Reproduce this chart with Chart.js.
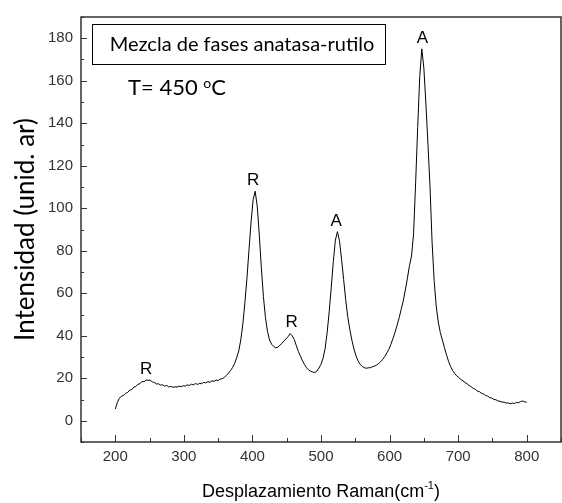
<!DOCTYPE html>
<html>
<head>
<meta charset="utf-8">
<title>Espectro Raman</title>
<script src="https://cdn.jsdelivr.net/npm/chart.js@4.4.1/dist/chart.umd.min.js"></script>
<style>
    html, body { margin: 0; padding: 0; background: #fff; overflow: hidden; }
    #wrap { width: 562px; height: 503px; }
</style>
</head>
<body>
<div id="wrap"><canvas id="ramanChart"></canvas></div>
<script>
// Raman shift (cm-1)
const ramanShift = [
    200, 203, 206, 209, 212, 215, 218, 221, 224, 227,
    230, 233, 236, 239, 242, 245, 248, 251, 254, 257,
    260, 263, 266, 269, 272, 275, 278, 281, 284, 287,
    290, 293, 296, 299, 302, 305, 308, 311, 314, 317,
    320, 323, 326, 329, 332, 335, 338, 341, 344, 347,
    350, 353, 356, 359, 362, 365, 368, 371, 374, 377,
    380, 383, 386, 389, 392, 395, 398, 401, 404, 407,
    410, 413, 416, 419, 422, 425, 428, 431, 434, 437,
    440, 443, 446, 449, 452, 455, 458, 461, 464, 467,
    470, 473, 476, 479, 482, 485, 488, 491, 494, 497,
    500, 503, 506, 509, 512, 515, 518, 521, 524, 527,
    530, 533, 536, 539, 542, 545, 548, 551, 554, 557,
    560, 563, 566, 569, 572, 575, 578, 581, 584, 587,
    590, 593, 596, 599, 602, 605, 608, 611, 614, 617,
    620, 623, 626, 629, 632, 635, 638, 641, 644, 647,
    650, 653, 656, 659, 662, 665, 668, 671, 674, 677,
    680, 683, 686, 689, 692, 695, 698, 701, 704, 707,
    710, 713, 716, 719, 722, 725, 728, 731, 734, 737,
    740, 743, 746, 749, 752, 755, 758, 761, 764, 767,
    770, 773, 776, 779, 782, 785, 788, 791, 794, 797,
    800
];

// Intensity (arb. units)
const intensity = [
    5.5, 8.6, 10.6, 11.6, 11.9, 12.9, 13.3, 14.4, 14.6, 15.8,
    16.1, 17.2, 17.4, 18.5, 18.3, 19.2, 19.0, 19.1, 18.3, 18.0,
    17.3, 17.4, 16.8, 16.9, 16.3, 16.6, 15.9, 16.2, 15.7, 16.0,
    15.8, 16.3, 16.0, 16.5, 16.3, 16.9, 16.6, 17.2, 16.9, 17.5,
    17.1, 17.6, 17.4, 18.1, 17.8, 18.4, 18.1, 18.8, 18.5, 19.2,
    18.9, 19.6, 19.8, 20.4, 21.3, 22.4, 23.6, 25.0, 27.0, 29.6,
    32.8, 38.0, 45.5, 55.5, 67.0, 80.5, 93.5, 104.0, 108.0, 101.0,
    87.5, 72.0, 58.5, 48.5, 42.0, 38.0, 36.0, 35.0, 34.3, 34.6,
    35.5, 36.4, 37.6, 38.5, 39.6, 41.0, 40.0, 38.2, 35.4, 32.6,
    30.4, 28.2, 26.4, 24.9, 23.9, 23.3, 22.9, 22.7, 23.4, 24.8,
    26.6, 29.4, 34.0, 41.5, 51.5, 63.0, 75.0, 85.0, 89.0, 84.5,
    76.0, 66.5, 57.0, 49.0, 43.0, 38.0, 33.8, 30.6, 28.2, 26.6,
    25.6, 25.0, 24.7, 24.9, 25.0, 25.4, 25.7, 26.2, 26.9, 27.8,
    28.9, 30.2, 31.9, 33.6, 36.0, 38.8, 41.6, 45.0, 48.5, 52.5,
    56.5, 61.5, 67.0, 73.0, 77.5, 88.0, 112.0, 138.0, 162.0, 175.0,
    166.0, 149.0, 130.0, 110.0, 84.0, 66.0, 54.0, 46.5, 41.5, 38.0,
    34.5, 31.0, 28.0, 25.5, 23.6, 22.2, 21.1, 20.3, 19.4, 18.8,
    18.0, 17.4, 16.6, 16.0, 15.2, 14.8, 14.0, 13.7, 12.9, 12.6,
    11.9, 11.6, 10.9, 10.7, 10.0, 9.9, 9.3, 9.2, 8.7, 8.8,
    8.3, 8.4, 8.0, 8.3, 8.1, 8.6, 8.5, 9.0, 9.3, 8.9,
    8.7
];

// Phase labels over the bands (R = rutilo, A = anatasa)
const bandPhase = ['R', 'R', 'R', 'A', 'A'];
const bandShift = [245, 401, 457, 522, 648];
const bandLabelHeight = [24, 113, 46.5, 94, 180];

const xMin = 150, xMax = 850, xStep = 50;
const yMin = -10, yMax = 190, yStep = 10;

const tickFont = { family: "'Liberation Sans', Arial, sans-serif", size: 15 };

// Frame, inward tick marks, band labels, titles and the text box
const ramanDecor = {
    id: 'ramanDecor',
    afterDraw(chart) {
        const { ctx, chartArea: a, scales: { x, y } } = chart;
        ctx.save();

        // inward ticks
        ctx.strokeStyle = '#333';
        ctx.lineWidth = 1;
        ctx.beginPath();
        x.ticks.forEach(t => {
            const px = Math.round(x.getPixelForValue(t.value)) + 0.5;
            const len = t.value % 100 === 0 ? 7 : 4;
            ctx.moveTo(px, a.bottom);
            ctx.lineTo(px, a.bottom - len);
        });
        y.ticks.forEach(t => {
            const py = Math.round(y.getPixelForValue(t.value)) + 0.5;
            const len = t.value % 20 === 0 ? 6 : 3;
            ctx.moveTo(a.left, py);
            ctx.lineTo(a.left + len, py);
        });
        ctx.stroke();

        // frame
        ctx.lineWidth = 1.5;
        ctx.strokeRect(a.left, a.top, a.right - a.left, a.bottom - a.top);

        // band labels
        ctx.fillStyle = '#000';
        ctx.font = "17px 'Liberation Sans', Arial, sans-serif";
        ctx.textAlign = 'center';
        ctx.textBaseline = 'middle';
        bandPhase.forEach((p, i) => {
            ctx.fillText(p, x.getPixelForValue(bandShift[i]), y.getPixelForValue(bandLabelHeight[i]));
        });

        // text box
        ctx.lineWidth = 1;
        ctx.strokeStyle = '#000';
        ctx.strokeRect(a.left + 11.5, a.top + 7.5, 293, 40);
        ctx.font = "20px Lato, 'Open Sans', sans-serif";
        ctx.fillText('Mezcla de fases anatasa-rutilo', a.left + 161, a.top + 28);

        // temperature, with raised degree "o"
        ctx.textAlign = 'left';
        ctx.textBaseline = 'alphabetic';
        ctx.font = "22px Lato, 'Open Sans', sans-serif";
        let tx = a.left + 47;
        const ty = a.top + 78;
        ctx.fillText('T= 450 ', tx, ty);
        tx += ctx.measureText('T= 450 ').width;
        ctx.font = "14px Lato, 'Open Sans', sans-serif";
        ctx.fillText('o', tx, ty - 7);
        tx += ctx.measureText('o').width;
        ctx.font = "22px Lato, 'Open Sans', sans-serif";
        ctx.fillText('C', tx, ty);

        // y title
        ctx.save();
        ctx.translate(26, (a.top + a.bottom) / 2);
        ctx.rotate(-Math.PI / 2);
        ctx.textAlign = 'center';
        ctx.textBaseline = 'middle';
        ctx.font = "26px Lato, 'Open Sans', sans-serif";
        ctx.fillText('Intensidad (unid. ar)', 0, 0);
        ctx.restore();

        // x title with superscript -1
        const main = 'Desplazamiento Raman(cm';
        const bigFont = "18px 'Liberation Sans', Arial, sans-serif";
        const supFont = "11px 'Liberation Sans', Arial, sans-serif";
        ctx.font = bigFont;
        const w1 = ctx.measureText(main).width;
        const w3 = ctx.measureText(')').width;
        ctx.font = supFont;
        const w2 = ctx.measureText('-1').width;
        let xx = (a.left + a.right) / 2 - (w1 + w2 + w3) / 2;
        const by = 497;
        ctx.font = bigFont;
        ctx.fillText(main, xx, by);
        xx += w1;
        ctx.font = supFont;
        ctx.fillText('-1', xx, by - 8);
        xx += w2;
        ctx.font = bigFont;
        ctx.fillText(')', xx, by);

        ctx.restore();
    }
};

const ctx = document.getElementById('ramanChart').getContext('2d');
new Chart(ctx, {
    type: 'line',
    data: {
        labels: ramanShift,
        datasets: [{
            data: ramanShift.map((s, i) => ({ x: s, y: intensity[i] })),
            borderColor: '#000',
            borderWidth: 1,
            pointRadius: 0,
            tension: 0,
            fill: false
        }]
    },
    options: {
        responsive: true,
        maintainAspectRatio: false,
        animation: false,
        layout: { padding: { top: 12, right: 1, left: 0, bottom: 0 } },
        plugins: {
            legend: { display: false },
            tooltip: { enabled: false }
        },
        scales: {
            x: {
                type: 'linear',
                min: xMin,
                max: xMax,
                border: { display: false },
                grid: { display: false, drawTicks: false },
                afterFit: scale => {
                    scale.height = 61;
                    scale.paddingRight = 0;
                },
                ticks: {
                    stepSize: xStep,
                    autoSkip: false,
                    maxRotation: 0,
                    padding: 6,
                    color: '#333',
                    font: tickFont,
                    callback: v => (v % 100 === 0 ? String(v) : '')
                }
            },
            y: {
                min: yMin,
                max: yMax,
                border: { display: false },
                grid: { display: false, drawTicks: false },
                afterFit: scale => { scale.width = 81; },
                ticks: {
                    stepSize: yStep,
                    autoSkip: false,
                    padding: 8,
                    color: '#333',
                    font: tickFont,
                    callback: v => (v % 20 === 0 && v >= 0 && v <= 180 ? String(v) : '')
                }
            }
        }
    },
    plugins: [ramanDecor]
});
</script>
</body>
</html>
